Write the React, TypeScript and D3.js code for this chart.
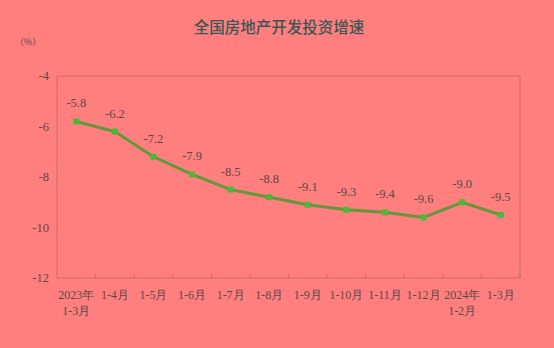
import React from "react";
import * as d3 from "d3";

const categories: string[][] = [
  ["2023年", "1-3月"],
  ["1-4月"],
  ["1-5月"],
  ["1-6月"],
  ["1-7月"],
  ["1-8月"],
  ["1-9月"],
  ["1-10月"],
  ["1-11月"],
  ["1-12月"],
  ["2024年", "1-2月"],
  ["1-3月"],
];
const values: number[] = [-5.8, -6.2, -7.2, -7.9, -8.5, -8.8, -9.1, -9.3, -9.4, -9.6, -9.0, -9.5];
const yTicks: number[] = [-4, -6, -8, -10, -12];
const title = "全国房地产开发投资增速";
const unit = "（%）";

export default function App() {
  const W = 554, H = 348;
  const left = 57, right = 520, top = 76, bottom = 278;
  const x = d3.scaleBand<number>().domain(values.map((_, i) => i)).range([left, right]);
  const y = d3.scaleLinear().domain([-12, -4]).range([bottom, top]);
  const cx = (i: number) => (x(i) as number) + x.bandwidth() / 2;
  const line = d3.line<number>().x((_, i) => cx(i)).y((d) => y(d));
  const serif = "'Liberation Serif', 'Times New Roman', serif";
  const cjk = "'Noto Sans CJK SC', sans-serif";
  const txt = "#5a4848";
  return (
    <div style={{ position: "absolute", left: 0, top: 0 }}>
      <svg width={W} height={H} style={{ display: "block" }}>
        <rect x={0} y={0} width={W} height={H} fill="#FF7F7F" />
        <text x={279} y={33} textAnchor="middle" fontFamily={cjk} fontSize={15.5} fontWeight={500} fill="#3a5654">
          {title}
        </text>
        <text x={28} y={45} textAnchor="middle" fontFamily={cjk} fontSize={9} fill={txt}>
          {unit}
        </text>
        <rect x={left} y={top} width={right - left} height={bottom - top} fill="none" stroke="#c06a6a" strokeWidth={0.8} />
        {yTicks.map((t) => (
          <text key={t} x={49} y={y(t) + 4} textAnchor="end" fontFamily={serif} fontSize={12.5} fill={txt}>
            {t}
          </text>
        ))}
        {values.map((_, i) => (
          <line key={i} x1={(x(i) as number) + x.bandwidth()} x2={(x(i) as number) + x.bandwidth()} y1={bottom} y2={bottom - 4} stroke="#c06a6a" strokeWidth={0.8} />
        ))}
        {categories.map((lines, i) => (
          <text key={i} x={cx(i)} y={299} textAnchor="middle" fontFamily={serif} fontSize={12} fill={txt}>
            {lines.map((l, j) => (
              <tspan key={j} x={cx(i)} dy={j === 0 ? 0 : 16}>
                {l}
              </tspan>
            ))}
          </text>
        ))}
        <path d={line(values) || ""} fill="none" stroke="#62983c" strokeWidth={3} />
        {values.map((v, i) => (
          <rect key={i} x={cx(i) - 3} y={y(v) - 3} width={6} height={6} fill="#4cb83a" />
        ))}
        {values.map((v, i) => (
          <text key={i} x={cx(i)} y={y(v) - 14} textAnchor="middle" fontFamily={serif} fontSize={12.5} fill={txt}>
            {v.toFixed(1)}
          </text>
        ))}
      </svg>
    </div>
  );
}
